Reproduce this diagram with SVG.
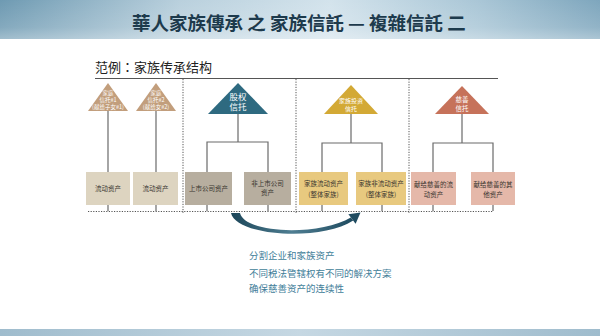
<svg xmlns="http://www.w3.org/2000/svg" width="600" height="336" viewBox="0 0 600 336">
<defs>
<linearGradient id="bar" x1="0" y1="0" x2="1" y2="0">
<stop offset="0" stop-color="#6e9ab2"/>
<stop offset="0.3" stop-color="#b9d0dd"/>
<stop offset="0.55" stop-color="#d3e3ec"/>
<stop offset="0.8" stop-color="#a9c6d6"/>
<stop offset="1" stop-color="#7ea6bd"/>
</linearGradient>
<linearGradient id="barV" x1="0" y1="0" x2="0" y2="1">
<stop offset="0" stop-color="#ffffff" stop-opacity="0"/>
<stop offset="0.7" stop-color="#ffffff" stop-opacity="0.15"/>
<stop offset="1" stop-color="#ffffff" stop-opacity="0.35"/>
</linearGradient>
<linearGradient id="foot" x1="0" y1="0" x2="1" y2="0">
<stop offset="0" stop-color="#9fbccd"/>
<stop offset="0.5" stop-color="#c6d8e3"/>
<stop offset="1" stop-color="#9fbccd"/>
</linearGradient>
<linearGradient id="arc" x1="0" y1="0" x2="1" y2="0">
<stop offset="0" stop-color="#1c4659"/>
<stop offset="0.5" stop-color="#4f7e92"/>
<stop offset="1" stop-color="#1f4b60"/>
</linearGradient>
<style>
.cjk{font-family:"Noto Sans CJK SC","Liberation Sans",sans-serif;}
.tc{font-family:"Noto Sans CJK TC","Liberation Sans",sans-serif;}
.conn{stroke:#6a6a6a;stroke-width:1.2;fill:none;}
.dot{stroke:#555;stroke-width:1;stroke-dasharray:1.2 1.4;fill:none;}
.tt{fill:#fff;text-anchor:middle;}
.bt{fill:#3a3630;text-anchor:middle;font-size:6.5px;}
.note{fill:#3f7e99;font-size:9.5px;}
</style>
</defs>
<rect width="600" height="336" fill="#ffffff"/>
<g id="titlebar">
<rect x="0" y="0" width="600" height="39" fill="url(#bar)"/>
<rect x="0" y="0" width="600" height="39" fill="url(#barV)"/>
<text class="tc" x="132" y="29.5" font-size="18.5" font-weight="bold" fill="#1d3a4c" xml:space="preserve">華人家族傳承 之 家族信託 — 複雜信託 二</text>
</g>
<rect id="footer" x="0" y="329" width="600" height="7" fill="url(#foot)"/>
<text class="tc" x="95" y="72" font-size="13" fill="#222">范例：家族传承结构</text>
<g id="connectors">
<line x1="95" y1="78.5" x2="498" y2="78.5" stroke="#555" stroke-width="1.2"/>
<line class="dot" x1="183" y1="79" x2="183" y2="213"/>
<line class="dot" x1="296" y1="79" x2="296" y2="213"/>
<line class="dot" x1="409" y1="79" x2="409" y2="213"/>
<line class="dot" x1="88" y1="211.5" x2="493" y2="211.5"/>
<line class="conn" x1="108" y1="110" x2="108" y2="211"/>
<line class="conn" x1="156" y1="110" x2="156" y2="211"/>
<path class="conn" d="M238 113 V142 M207 211 V142 H268 V211"/>
<path class="conn" d="M351 113 V143 M322 211 V143 H382 V211"/>
<path class="conn" d="M462 113 V143 M433 211 V143 H493 V211"/>
<path d="M231 213 C236 236,320 242,353.2 220.6 L350.8 217.4 C320 236,245 234,240 213 Z" fill="url(#arc)"/>
<polygon points="360.5,212.5 355.6,223.8 348.4,214.2" fill="#1f4b60"/>
</g>
<g id="trust1">
<polygon points="108,83 88,111 128,111" fill="#c29e7c"/>
<text class="tt cjk" x="108" y="95" font-size="5.5">家庭</text>
<text class="tt cjk" x="108" y="101.5" font-size="5.5">信托#1</text>
<text class="tt cjk" x="108" y="108.5" font-size="5.5">(献给子女#1)</text>
</g>
<g id="trust2">
<polygon points="156,83 136,111 176,111" fill="#c29e7c"/>
<text class="tt cjk" x="156" y="95" font-size="5.5">家庭</text>
<text class="tt cjk" x="156" y="101.5" font-size="5.5">信托#2</text>
<text class="tt cjk" x="156" y="108.5" font-size="5.5">(献给女#2)</text>
</g>
<g id="trust3">
<polygon points="238,83 208,114 268,114" fill="#2e6a80"/>
<text class="tt cjk" x="238" y="99.5" font-size="8.5">股权</text>
<text class="tt cjk" x="238" y="110" font-size="8.5">信托</text>
</g>
<g id="trust4">
<polygon points="351,85 324,114 378,114" fill="#d3a935"/>
<text class="tt cjk" x="351" y="102.5" font-size="6">家族投资</text>
<text class="tt cjk" x="351" y="110.5" font-size="6">信托</text>
</g>
<g id="trust5">
<polygon points="462,86 435,114 489,114" fill="#c6725a"/>
<text class="tt cjk" x="462" y="101.5" font-size="6.5">慈善</text>
<text class="tt cjk" x="462" y="110.5" font-size="6.5">信托</text>
</g>
<g id="box1"><rect x="86" y="172" width="44" height="33" fill="#ddd4c0"/><text class="bt cjk" x="108" y="191">流动资产</text></g>
<g id="box2"><rect x="133" y="172" width="45" height="33" fill="#ddd4c0"/><text class="bt cjk" x="155.5" y="191">流动资产</text></g>
<g id="box3"><rect x="185" y="172" width="47" height="33" fill="#b7ae9f"/><text class="bt cjk" x="208.5" y="191">上市公司资产</text></g>
<g id="box4"><rect x="244" y="172" width="47" height="33" fill="#b7ae9f"/><text class="bt cjk" x="267.5" y="185.5">非上市公司</text><text class="bt cjk" x="267.5" y="195">资产</text></g>
<g id="box5"><rect x="299" y="172" width="49" height="33" fill="#e8c97f"/><text class="bt cjk" x="323.5" y="186">家族流动资产</text><text class="bt cjk" x="323.5" y="197">(整体家族)</text></g>
<g id="box6"><rect x="356" y="172" width="50" height="33" fill="#e8c97f"/><text class="bt cjk" x="381" y="186">家族非流动资产</text><text class="bt cjk" x="381" y="197">(整体家族)</text></g>
<g id="box7"><rect x="411" y="172" width="45" height="33" fill="#e5b8a9"/><text class="bt cjk" x="433.5" y="187">献给慈善的流</text><text class="bt cjk" x="433.5" y="196.5">动资产</text></g>
<g id="box8"><rect x="471" y="172" width="44" height="33" fill="#e5b8a9"/><text class="bt cjk" x="493" y="187">献给慈善的其</text><text class="bt cjk" x="493" y="196.5">他资产</text></g>
<g id="notes">
<text class="note cjk" x="249" y="258.5">分割企业和家族资产</text>
<text class="note cjk" x="249" y="276.5">不同税法管辖权有不同的解决方案</text>
<text class="note cjk" x="249" y="292">确保慈善资产的连续性</text>
</g>
</svg>
